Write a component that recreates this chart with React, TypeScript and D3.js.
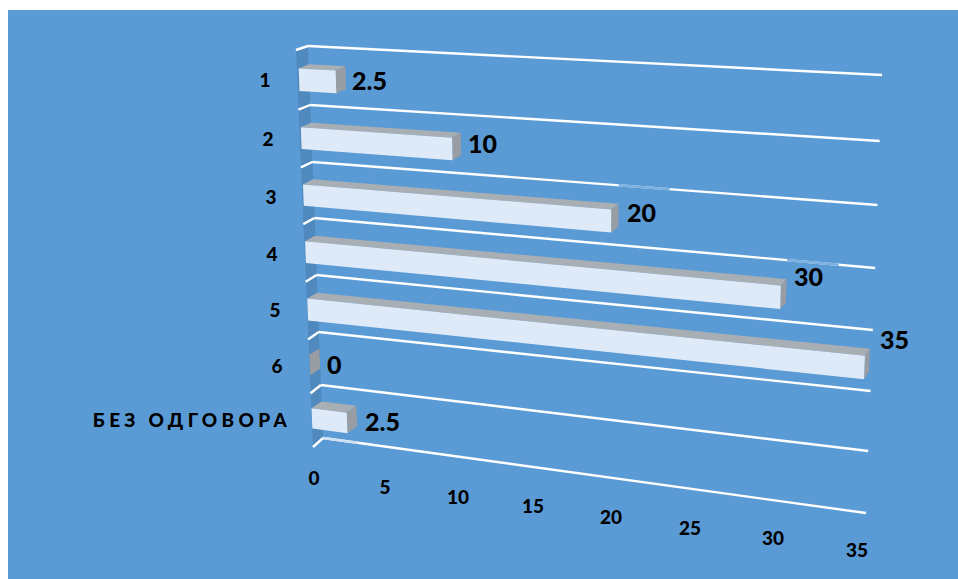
import React from "react";
import * as d3 from "d3";

const categories = ["1", "2", "3", "4", "5", "6", "БЕЗ ОДГОВОРА"];
const values = [2.5, 10, 20, 30, 35, 0, 2.5];
const valueTicks = [0, 5, 10, 15, 20, 25, 30, 35];

const W = 958, H = 579;
const bands = d3.range(8);
// Projected wall/floor guide positions, measured per band boundary
const leftY = d3.scaleLinear().domain(bands).range([46, 105, 162, 218, 275, 332, 385, 438]);
const rightY = d3.scaleLinear().domain(bands).range([75, 141, 205, 268, 330, 391, 451, 513]);
const leftX = d3.scaleLinear().domain([0, 7]).range([308, 323]);
const rightX = d3.scaleLinear().domain([0, 7]).range([882, 866]);
// Foreshortening of the value axis
const frac = d3.scaleLinear().domain([0, 2.5, 10, 20, 30, 35]).range([0, 0.064, 0.264, 0.542, 0.843, 0.996]);

type P = [number, number];
const back = (v: number, b: number): P => {
  const f = frac(v);
  return [leftX(b) + (rightX(b) - leftX(b)) * f, leftY(b) + (rightY(b) - leftY(b)) * f];
};
const front = (v: number, b: number): P => {
  const [x, y] = back(v, b);
  const f = frac(v);
  return [x - 10 + 5 * f, y + 4 + 0.45 * b + 1.2 * f];
};
const path = (pts: P[]) => d3.line()(pts)! + "Z";

const labelPos: P[] = [[352, 84], [468, 147], [627, 216], [794, 280], [880, 343], [327, 368], [365, 425]];
const catPos: P[] = [[265, 82], [268, 141], [271, 199], [272, 256], [275, 312], [277, 368], [291, 422]];
const tickPos: P[] = [[314, 480], [385, 489], [458, 499], [533, 508], [611, 519], [690, 530], [773, 540], [857, 552]];
const font = "Lato, Carlito, 'Open Sans', sans-serif";
const fadedSegments: [number, number, number, string][] = [
  [2, 20, 23, "#7eb0e0"],
  [3, 30, 33, "#7eb0e0"],
  [7, 0, 2.5, "#cfe0f2"],
];

export default function App() {
  return (
    <svg width={W} height={H} viewBox={`0 0 ${W} ${H}`} style={{ position: "fixed", left: 0, top: 0, background: "#fff" }}>
      <rect x={8} y={10} width={950} height={569} fill="#5b9bd5" />
      <path d={path([[leftX(0), leftY(0)], [leftX(7), leftY(7)], [leftX(7) - 10, leftY(7) + 9], [leftX(0) - 12, leftY(0) + 4]])} fill="#4f89bd" />
      {bands.map((b) => {
        const t = b / 7;
        return (
          <g key={b} stroke="#fff" strokeWidth={2.4} fill="none">
            <path d={d3.line()([[leftX(b), leftY(b)], [rightX(b), rightY(b)]])!} />
            <path d={d3.line()([[leftX(b), leftY(b)], [leftX(b) - 12 + 2 * t, leftY(b) + 4 + 5 * t]])!} />
          </g>
        );
      })}
      {fadedSegments.map(([b, v0, v1, c]) => (
        <path key={b} d={d3.line()([back(v0, b), back(v1, b)])!} stroke={c} strokeWidth={2.6} fill="none" />
      ))}
      {values.map((v, i) => {
        const top = i + 0.31, bot = i + 0.69;
        const bTL = back(0, top), bTR = back(v, top), bBR = back(v, bot);
        const fTL = front(0, top), fTR = front(v, top), fBR = front(v, bot), fBL = front(0, bot);
        return (
          <g key={i}>
            <path d={path([bTL, bTR, fTR, fTL])} fill="#a7aeb4" />
            <path d={path([fTR, bTR, bBR, fBR])} fill="#979da3" />
            <path d={path([fTL, fTR, fBR, fBL])} fill="#dfeaf8" />
          </g>
        );
      })}
      <g fontFamily={font} fontWeight={900} fill="#000">
        {values.map((v, i) => (
          <text key={i} x={labelPos[i][0]} y={labelPos[i][1]} fontSize={25} dominantBaseline="middle">{String(v)}</text>
        ))}
        {categories.map((c, i) => (
          <text key={c} x={catPos[i][0]} y={catPos[i][1]} fontSize={19} textAnchor={i === 6 ? "end" : "middle"} dominantBaseline="middle" letterSpacing={i === 6 ? 4.3 : 0}>{c}</text>
        ))}
        {valueTicks.map((t, i) => (
          <text key={t} x={tickPos[i][0]} y={tickPos[i][1]} fontSize={19} textAnchor="middle" dominantBaseline="middle">{t}</text>
        ))}
      </g>
    </svg>
  );
}
